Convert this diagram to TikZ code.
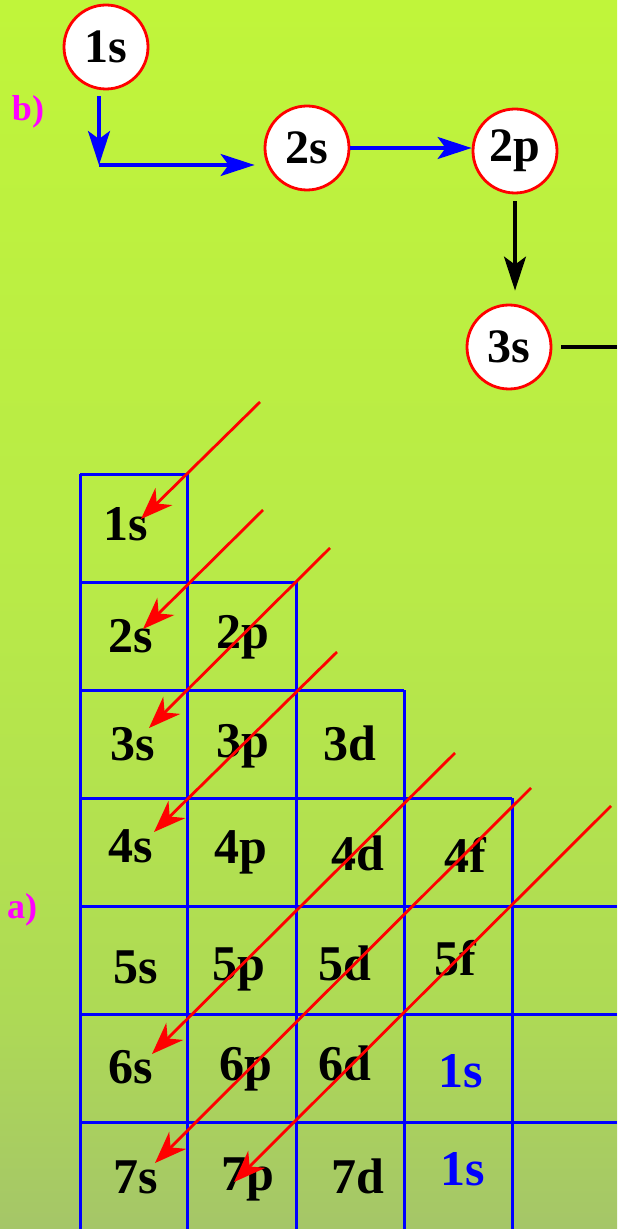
\documentclass[tikz,border=0pt]{standalone}
\usepackage{fontspec}
\setmainfont{Liberation Serif}
\usetikzlibrary{arrows.meta}

\definecolor{lawntop}{RGB}{192,245,58}
\definecolor{lawnmid}{RGB}{184,234,72}
\definecolor{lawnlow}{RGB}{174,218,85}
\definecolor{lawnbot}{RGB}{165,198,104}
\definecolor{tagpink}{RGB}{255,0,255}
\pgfdeclareverticalshading{lawn}{100bp}{color(0bp)=(lawnbot); color(25bp)=(lawnbot);
  color(34bp)=(lawnlow); color(51bp)=(lawnmid); color(75bp)=(lawntop); color(100bp)=(lawntop)}

\begin{document}
\begin{tikzpicture}[x=0.5pt,y=-0.5pt,
   orb/.style={circle, draw=red, fill=white, line width=1.4pt, minimum size=42pt, inner sep=0pt,
      font=\fontsize{24}{24}\selectfont\bfseries},
   lbl/.style={anchor=base, inner sep=0pt, font=\fontsize{25}{25}\selectfont\bfseries},
   tag/.style={text=tagpink, font=\fontsize{18}{18}\selectfont\bfseries},
   link/.style={line width=1.7pt, -{Stealth[length=17pt,width=11pt,inset=4pt]}},
   diag/.style={red, line width=1.4pt, -{Stealth[length=16pt,width=12pt,inset=5pt]}}]

   \shade[shading=lawn] (0,0) rectangle (617,1229);
   \useasboundingbox (0,0) rectangle (617,1229);

   % b) filling order
   \node[tag] (tb) at (28,112) {b)};
   \node[orb] (o1s) at (106,47) {1s};
   \node[orb] (o2s) at (307,148) {2s};
   \node[orb] (o2p) at (515,151) {2p};
   \node[orb] (o3s) at (509,347) {3s};
   \coordinate (turn) at (99,165);
   \coordinate (out) at (617,350);

   \draw[link, blue, shorten <=3pt] (o1s.south -| turn) -- (turn);
   \draw[link, blue, shorten >=4.5pt] (turn) -- (turn -| o2s.west);
   \draw[link, blue] (o2s.east) -- (o2s.east -| o2p.west);
   \draw[link, shorten <=3.5pt, shorten >=6.5pt] (o2p.south) -- (o2p.south |- o3s.north);
   \draw[line width=1.7pt, shorten <=4.5pt] (o3s.east) -- (o3s.east -| out);

   % a) grid
   \node[tag] (ta) at (22,910) {a)};
   \draw[blue, line width=1.5pt]
      (80,474) -- (187,474) (80,582) -- (296,582) (80,690) -- (404,690) (80,798) -- (512,798)
      (80,906) -- (617,906) (80,1014) -- (617,1014) (80,1122) -- (617,1122)
      (80,474) -- (80,1229) (187,474) -- (187,1229) (296,582) -- (296,1229)
      (404,690) -- (404,1229) (512,798) -- (512,1229);

   \foreach \n/\x/\y in {1s/126/540, 2s/131/652, 2p/243/648, 3s/133/760, 3p/243/757, 3d/350/760,
      4s/131/862, 4p/241/863, 4d/358/870, 4f/465/872, 5s/136/983, 5p/239/980, 5d/345/980, 5f/455/975,
      6s/131/1083, 6p/246/1080, 6d/345/1080, 7s/136/1193, 7p/248/1190, 7d/358/1193}
      \node[lbl] (c\n) at (\x,\y) {\n};
   \node[lbl, text=blue] (e1) at (461,1087) {1s};
   \node[lbl, text=blue] (e2) at (463,1185) {1s};

   \coordinate (a1) at (260,402);  \coordinate (b1) at (141,519);
   \coordinate (a2) at (263,510);  \coordinate (b2) at (143,629);
   \coordinate (a3) at (330,548);  \coordinate (b3) at (149,728);
   \coordinate (a4) at (337,652);  \coordinate (b4) at (154,832);
   \coordinate (a5) at (455,753);  \coordinate (b5) at (152,1054);
   \coordinate (a6) at (531,788);  \coordinate (b6) at (155,1163);
   \coordinate (a7) at (611,806);  \coordinate (b7) at (234,1182);
   \foreach \i in {1,...,7}
      \draw[diag] (a\i) -- (b\i);
\end{tikzpicture}
\end{document}
